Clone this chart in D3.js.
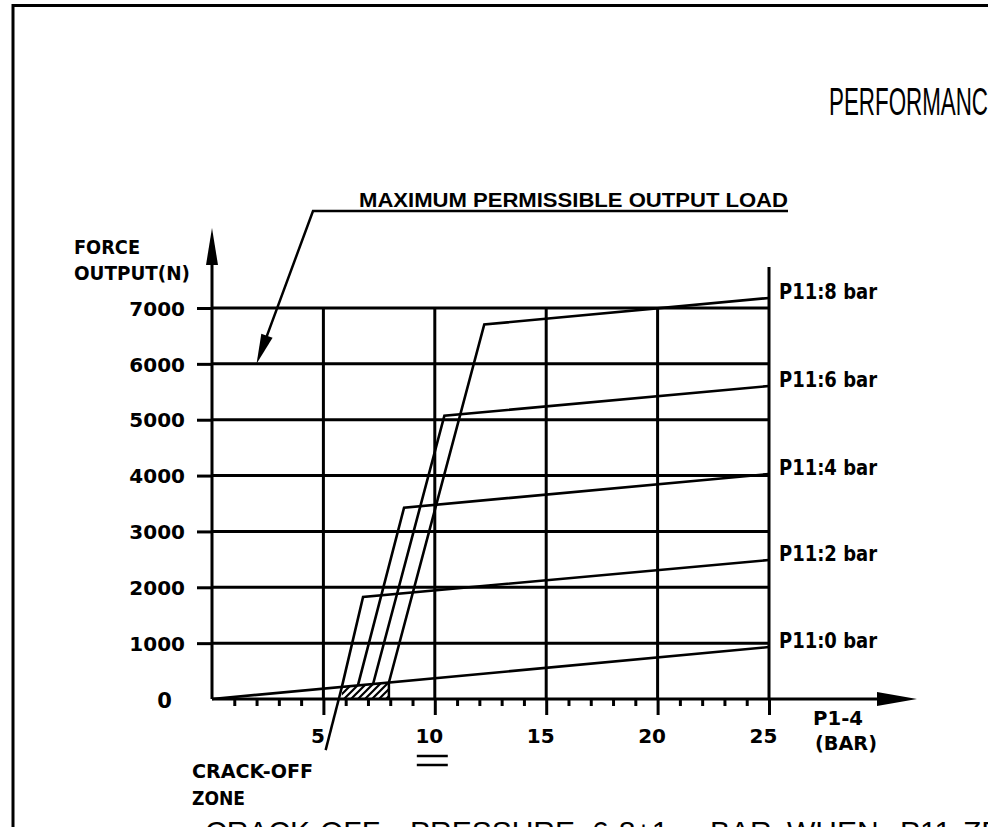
<!DOCTYPE html>
<html>
<head>
<meta charset="utf-8">
<script src="https://cdn.jsdelivr.net/npm/d3@7"></script>
<style>
  body { margin: 0; background: #fff; overflow: hidden; }
  text { fill: #000; }
</style>
</head>
<body>
<div id="chart-container"></div>
<script>
// values
const xMajor = [5, 10, 15, 20, 25];
const xMinor = [1, 2, 3, 4, 6, 7, 8, 9, 11, 12, 13, 14, 16, 17, 18, 19, 21, 22, 23, 24];
const yTicks = [1000, 2000, 3000, 4000, 5000, 6000, 7000];

const seriesNames = ["P11:0 bar", "P11:2 bar", "P11:4 bar", "P11:6 bar", "P11:8 bar"];
const crackX = [0, 5.83, 6.55, 7.23, 7.94];      // start of steep part (bar)
const crackY = [0, 217, 244, 269, 295];          // force there (N)
const kneeX  = [null, 6.78, 8.62, 10.43, 12.22];
const kneeY  = [null, 1828, 3425, 5071, 6705];
const endX   = 25;
const endY   = [930, 2488, 4028, 5603, 7180];

const maxLoad = 6000;   // maximum permissible output load
const maxLoadAt = 2;    // where the arrow hits the 6000 line

const width = 988, height = 827;

const svg = d3.select("#chart-container")
    .append("svg")
    .attr("width", width)
    .attr("height", height);

const x = d3.scaleLinear().domain([0, 25]).range([212, 769]);
const y = d3.scaleLinear().domain([0, 7000]).range([699, 308]);

const ink = "#000";
const sans = "'DejaVu Sans', sans-serif";
const narrow = "'Liberation Sans Narrow', 'Liberation Sans', sans-serif";

// drawing frame
svg.append("path")
    .attr("d", `M13,${height + 10} V5.5 H${width + 10}`)
    .attr("fill", "none").attr("stroke", ink).attr("stroke-width", 3);

// hatch pattern for the crack-off zone
const defs = svg.append("defs");
defs.append("pattern")
    .attr("id", "hatch")
    .attr("patternUnits", "userSpaceOnUse")
    .attr("width", 7).attr("height", 7)
    .append("path")
    .attr("d", "M-1,8 L8,-1 M-2,2 L2,-2 M5,9 L9,5")
    .attr("stroke", ink).attr("stroke-width", 2.2);

// grid
const grid = svg.append("g").attr("stroke", ink).attr("stroke-width", 3);
grid.selectAll("line.h")
    .data(yTicks)
    .join("line")
    .attr("class", "h")
    .attr("x1", x(0)).attr("x2", x(25))
    .attr("y1", d => y(d)).attr("y2", d => y(d));
grid.selectAll("line.v")
    .data(xMajor)
    .join("line")
    .attr("class", "v")
    .attr("x1", d => x(d)).attr("x2", d => x(d))
    .attr("y1", y(0))
    .attr("y2", d => d === 25 ? y(7000) - 41 : y(7000));

// crack-off zone
svg.append("path")
    .attr("d", `M${x(crackX[1])},${y(crackY[1])} L${x(crackX[4])},${y(crackY[4])} L${x(crackX[4])},${y(0)} L${x(crackX[1])},${y(0)} Z`)
    .attr("fill", "url(#hatch)")
    .attr("stroke", "none");
svg.append("line")
    .attr("x1", x(crackX[4])).attr("x2", x(crackX[4]))
    .attr("y1", y(crackY[4])).attr("y2", y(0))
    .attr("stroke", ink).attr("stroke-width", 2.5);

// curves
const line = d3.line().x(d => x(d[0])).y(d => y(d[1]));
const curves = seriesNames.map((name, i) => ({
    name,
    points: i === 0
        ? [[0, 0], [endX, endY[0]]]
        : [[crackX[i], crackY[i]], [kneeX[i], kneeY[i]], [endX, endY[i]]]
}));

svg.append("g")
    .selectAll("path")
    .data(curves)
    .join("path")
    .attr("d", d => line(d.points))
    .attr("fill", "none")
    .attr("stroke", ink)
    .attr("stroke-width", 2.6)
    .attr("stroke-linejoin", "miter");

// series labels at the right end
svg.append("g")
    .selectAll("text")
    .data(curves)
    .join("text")
    .attr("x", 779)
    .attr("y", (d, i) => y(endY[i]) + 1)
    .attr("font-family", sans)
    .attr("font-weight", "bold")
    .attr("font-size", 22)
    .attr("textLength", 98)
    .attr("lengthAdjust", "spacingAndGlyphs")
    .text(d => d.name);

// x axis ticks
const xAxisMinor = d3.axisBottom(x).tickValues(xMinor).tickSize(7).tickSizeOuter(0).tickFormat("");
const xAxisMajor = d3.axisBottom(x).tickValues(xMajor).tickSize(16).tickSizeOuter(0);
const gxm = svg.append("g").attr("transform", `translate(0,${y(0)})`).call(xAxisMinor);
const gx = svg.append("g").attr("transform", `translate(0,${y(0)})`).call(xAxisMajor);
[gxm, gx].forEach(g => {
    g.select(".domain").remove();
    g.selectAll(".tick line").attr("stroke", ink).attr("stroke-width", 3);
});
gx.selectAll(".tick text")
    .attr("y", 44).attr("dy", 0).attr("dx", -6)
    .attr("font-family", sans)
    .attr("font-weight", "bold")
    .attr("font-size", 20)
    .attr("fill", ink);

// double underline under "10"
svg.append("g").attr("stroke", ink).attr("stroke-width", 2.5)
    .selectAll("line")
    .data([756, 765])
    .join("line")
    .attr("x1", x(10) - 18).attr("x2", x(10) + 13)
    .attr("y1", d => d).attr("y2", d => d);

// x axis line with arrow
svg.append("line")
    .attr("x1", x(0)).attr("x2", 880)
    .attr("y1", y(0)).attr("y2", y(0))
    .attr("stroke", ink).attr("stroke-width", 3);
svg.append("path")
    .attr("d", `M917,${y(0)} L877,${y(0) - 7} L877,${y(0) + 7} Z`)
    .attr("fill", ink);

// y axis ticks and labels
const yAxis = d3.axisLeft(y).tickValues(yTicks).tickSize(15).tickPadding(12)
    .tickSizeOuter(0).tickFormat(d3.format("d"));
const gy = svg.append("g").attr("transform", `translate(${x(0)},0)`).call(yAxis);
gy.select(".domain").remove();
gy.selectAll(".tick line").attr("stroke", ink).attr("stroke-width", 3);
gy.selectAll(".tick text")
    .attr("dy", "0.36em")
    .attr("font-family", sans)
    .attr("font-weight", "bold")
    .attr("font-size", 20)
    .attr("fill", ink);
svg.append("text")
    .attr("x", 164.5).attr("y", y(0) + 9)
    .attr("text-anchor", "middle")
    .attr("font-family", sans).attr("font-weight", "bold").attr("font-size", 21)
    .text("0");

// y axis line with arrow
svg.append("line")
    .attr("x1", x(0)).attr("x2", x(0))
    .attr("y1", y(0)).attr("y2", 262)
    .attr("stroke", ink).attr("stroke-width", 3);
svg.append("path")
    .attr("d", `M${x(0)},228 L${x(0) - 6},265 L${x(0) + 6},265 Z`)
    .attr("fill", ink);

// axis titles and notes
const boldText = (tx, ty, str, len, size) => svg.append("text")
    .attr("x", tx).attr("y", ty)
    .attr("font-family", sans).attr("font-weight", "bold").attr("font-size", size)
    .attr("textLength", len).attr("lengthAdjust", "spacingAndGlyphs")
    .text(str);

boldText(74, 254, "FORCE", 66, 20);
boldText(74, 280, "OUTPUT(N)", 116, 20);
boldText(813, 725, "P1-4", 50, 20);
boldText(815, 750, "(BAR)", 62, 20);
boldText(192, 778, "CRACK-OFF", 121, 20);
boldText(192, 805, "ZONE", 53, 20);

// crack-off leader
svg.append("line")
    .attr("x1", x(5.1)).attr("y1", y(-915))
    .attr("x2", x(crackX[1])).attr("y2", y(crackY[1]))
    .attr("stroke", ink).attr("stroke-width", 2.5);

// maximum permissible output load annotation
svg.append("text")
    .attr("x", 359).attr("y", 207)
    .attr("font-family", narrow).attr("font-weight", "bold").attr("font-size", 21)
    .attr("textLength", 429).attr("lengthAdjust", "spacingAndGlyphs")
    .text("MAXIMUM PERMISSIBLE OUTPUT LOAD");

const tipX = x(maxLoadAt), tipY = y(maxLoad);
const startX = 313, startY = 211;
svg.append("path")
    .attr("d", `M788,${startY} H${startX} L${tipX + (startX - tipX) * 0.18},${tipY - (tipY - startY) * 0.18}`)
    .attr("fill", "none").attr("stroke", ink).attr("stroke-width", 2.5);

const ang = Math.atan2(tipY - startY, tipX - startX);
const aLen = 30, aHalf = 6;
const bx = tipX - aLen * Math.cos(ang), by = tipY - aLen * Math.sin(ang);
svg.append("path")
    .attr("d", `M${tipX},${tipY} L${bx - aHalf * Math.sin(ang)},${by + aHalf * Math.cos(ang)} L${bx + aHalf * Math.sin(ang)},${by - aHalf * Math.cos(ang)} Z`)
    .attr("fill", ink);

// title (runs off the sheet on the right, as in the drawing)
svg.append("text")
    .attr("x", 829).attr("y", 115)
    .attr("font-family", narrow).attr("font-size", 38)
    .attr("textLength", 258).attr("lengthAdjust", "spacingAndGlyphs")
    .text("PERFORMANCE CURVE");

// note at the bottom, cut by the sheet edge
const note = svg.append("text")
    .attr("y", 842)
    .attr("font-family", "'Liberation Sans', sans-serif").attr("font-size", 30);
[["CRACK-OFF", 205], ["PRESSURE", 410], ["6-8±1", 592], ["BAR", 710], ["WHEN", 787], ["P11", 900], ["ZERO", 963]]
    .forEach(([w, wx]) => {
        note.append("tspan").attr("x", wx).text(w);
    });
</script>
</body>
</html>
